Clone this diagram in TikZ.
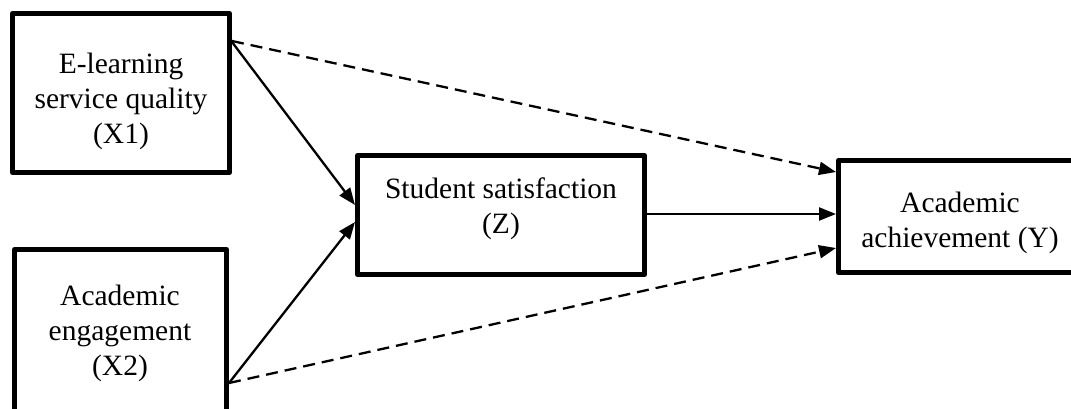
\documentclass[tikz,border=0pt]{standalone}
\usepackage{fontspec}
\setmainfont{Liberation Serif}
\usetikzlibrary{arrows.meta}
\begin{document}
\begin{tikzpicture}[x=1pt,y=-1pt,
  box/.style={draw, line width=5pt, rectangle, inner sep=0pt, line join=round},
  lbl/.style={font=\fontsize{29.5}{35}\selectfont, align=center, inner sep=0pt},
  solidarr/.style={line width=2.3pt, -{Triangle[length=17pt,width=13pt]}},
  dasharr/.style={solidarr, dash pattern=on 12pt off 7pt}]
\clip (0,0) rectangle (1071,408);
\node[box, minimum width=217pt, minimum height=159pt] (X1) at (121,93) {};
\node[box, minimum width=212pt, minimum height=163pt] (X2) at (120.5,331) {};
\node[box, minimum width=287pt, minimum height=119pt] (Z) at (501,215) {};
\node[box, minimum width=243pt, minimum height=112pt] (Y) at (960,216.5) {};
\node[lbl] (X1t) at (121,101) {E-learning\\service quality\\(X1)};
\node[lbl] (X2t) at (120,333) {Academic\\engagement\\(X2)};
\node[lbl] (Zt) at (501,209) {Student satisfaction\\(Z)};
\node[lbl] (Yt) at (960,223) {Academic\\achievement (Y)};
\draw[solidarr] ([yshift=51pt]X1.east) -- ([yshift=10pt]Z.west);
\draw[dasharr] ([yshift=52pt]X1.east) -- ([yshift=44.5pt]Y.west);
\draw[solidarr] ([yshift=-52pt]X2.east) -- ([yshift=-7pt]Z.west);
\draw[dasharr] ([yshift=-52pt]X2.east) -- ([yshift=-31.5pt]Y.west);
\draw[solidarr] ([yshift=1pt]Z.east) -- ([yshift=2.5pt]Y.west);
\end{tikzpicture}
\end{document}
